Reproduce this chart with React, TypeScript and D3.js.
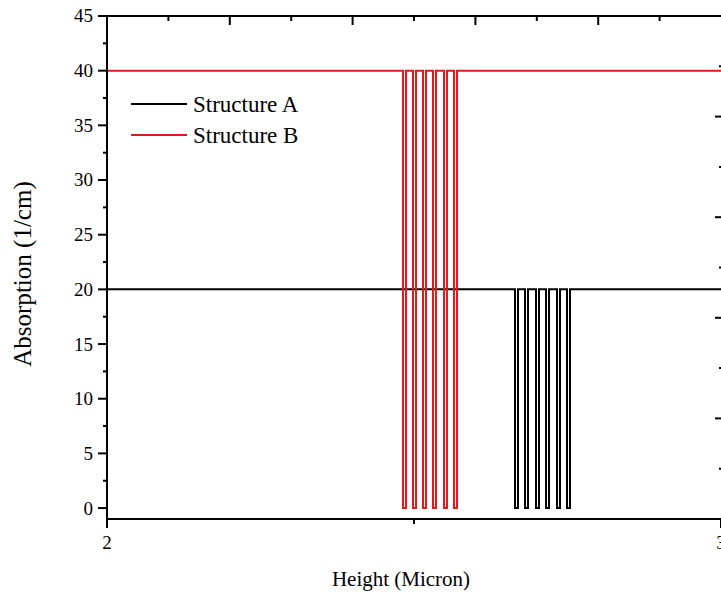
import { useRef, useEffect } from 'react';
import * as d3 from 'd3';

// Structure A: level 20 with six narrow drops to 0
const structureA: [number, number][] = [
  [2, 20], [2.6645, 20], [2.6645, 0], [2.6694, 0], [2.6694, 20],
  [2.6808, 20], [2.6808, 0], [2.6857, 0], [2.6857, 20],
  [2.6987, 20], [2.6987, 0], [2.7036, 0], [2.7036, 20],
  [2.7150, 20], [2.7150, 0], [2.7199, 0], [2.7199, 20],
  [2.7329, 20], [2.7329, 0], [2.7378, 0], [2.7378, 20],
  [2.7492, 20], [2.7492, 0], [2.7541, 0], [2.7541, 20],
  [3, 20],
];

// Structure B: level 40 with six narrow drops to 0
const structureB: [number, number][] = [
  [2, 40], [2.4821, 40], [2.4821, 0], [2.4870, 0], [2.4870, 40],
  [2.4984, 40], [2.4984, 0], [2.5033, 0], [2.5033, 40],
  [2.5147, 40], [2.5147, 0], [2.5195, 0], [2.5195, 40],
  [2.5309, 40], [2.5309, 0], [2.5358, 0], [2.5358, 40],
  [2.5489, 40], [2.5489, 0], [2.5537, 0], [2.5537, 40],
  [2.5651, 40], [2.5651, 0], [2.5700, 0], [2.5700, 40],
  [3, 40],
];

const yMajor = [0, 5, 10, 15, 20, 25, 30, 35, 40, 45];
const yMinor = [2.5, 7.5, 12.5, 17.5, 22.5, 27.5, 32.5, 37.5, 42.5];
const xMajor = [2, 3];
const xMinor = [2.5];
const topMajor = [2.2, 2.4, 2.6, 2.8];
const topMinor = [2.1, 2.3, 2.5, 2.7, 2.9];
const rightMajor = [1, 2, 3, 4];
const rightMinor = [0.5, 1.5, 2.5, 3.5, 4.5];

const series = [
  { name: 'Structure A', data: structureA, color: '#000000' },
  { name: 'Structure B', data: structureB, color: '#e0191b' },
];

const W = 721;
const H = 597;
const FONT = '"Liberation Serif", "Times New Roman", serif';

export default function App() {
  const svgRef = useRef<SVGSVGElement>(null);

  useEffect(() => {
    const svg = d3.select(svgRef.current);
    svg.selectAll('*').remove();

    const left = 107, right = 721, top = 16, bottom = 519;
    const x = d3.scaleLinear().domain([2, 3]).range([left, right]);
    const y = d3.scaleLinear().domain([-1, 45]).range([bottom, top]);
    const yR = d3.scaleLinear().domain([0, 5]).range([bottom, top]);

    const line = d3.line<[number, number]>()
      .x(d => x(d[0]))
      .y(d => y(d[1]));

    series.forEach(s => {
      svg.append('path')
        .attr('d', line(s.data))
        .attr('fill', 'none')
        .attr('stroke', s.color)
        .attr('stroke-width', 2);
    });

    // frame
    const frame = svg.append('g').attr('stroke', '#000').attr('stroke-width', 2);
    frame.append('line').attr('x1', left).attr('x2', left).attr('y1', top - 1).attr('y2', bottom + 1);
    frame.append('line').attr('x1', left).attr('x2', W).attr('y1', top).attr('y2', top);
    frame.append('line').attr('x1', left).attr('x2', W).attr('y1', bottom).attr('y2', bottom);

    // ticks
    const ax = svg.append('g').attr('stroke', '#000').attr('stroke-width', 2);
    yMajor.forEach(v => {
      ax.append('line').attr('x1', left - 9).attr('x2', left).attr('y1', y(v)).attr('y2', y(v));
    });
    yMinor.forEach(v => {
      ax.append('line').attr('x1', left - 4).attr('x2', left).attr('y1', y(v)).attr('y2', y(v));
    });
    xMajor.forEach(v => {
      ax.append('line').attr('x1', x(v)).attr('x2', x(v)).attr('y1', bottom).attr('y2', bottom + 9);
    });
    xMinor.forEach(v => {
      ax.append('line').attr('x1', x(v)).attr('x2', x(v)).attr('y1', bottom).attr('y2', bottom + 5);
    });
    topMajor.forEach(v => {
      ax.append('line').attr('x1', x(v)).attr('x2', x(v)).attr('y1', top).attr('y2', top + 9);
    });
    topMinor.forEach(v => {
      ax.append('line').attr('x1', x(v)).attr('x2', x(v)).attr('y1', top).attr('y2', top + 5);
    });
    // right axis sits just outside the picture, only its inward ticks show
    rightMajor.forEach(v => {
      ax.append('line').attr('x1', W - 6).attr('x2', W).attr('y1', yR(v)).attr('y2', yR(v));
    });
    rightMinor.forEach(v => {
      ax.append('line').attr('x1', W - 2).attr('x2', W).attr('y1', yR(v)).attr('y2', yR(v));
    });

    // tick labels
    const lbl = svg.append('g').attr('font-family', FONT).attr('font-size', 19).attr('fill', '#000');
    yMajor.forEach(v => {
      lbl.append('text').attr('x', left - 14).attr('y', y(v)).attr('dy', '0.34em')
        .attr('text-anchor', 'end').text(v);
    });
    xMajor.forEach(v => {
      lbl.append('text').attr('x', x(v)).attr('y', bottom + 30)
        .attr('text-anchor', 'middle').text(v);
    });

    // axis titles
    svg.append('text')
      .attr('x', 401).attr('y', 586)
      .attr('text-anchor', 'middle')
      .attr('font-family', FONT).attr('font-size', 21)
      .text('Height (Micron)');
    svg.append('text')
      .attr('transform', `translate(31, 274) rotate(-90)`)
      .attr('text-anchor', 'middle')
      .attr('font-family', FONT).attr('font-size', 25)
      .text('Absorption (1/cm)');

    // legend
    const lg = svg.append('g');
    series.forEach((s, i) => {
      const ly = 104 + i * 31;
      lg.append('line').attr('x1', 131).attr('x2', 187).attr('y1', ly).attr('y2', ly)
        .attr('stroke', s.color).attr('stroke-width', 2);
      lg.append('text').attr('x', 193).attr('y', ly).attr('dy', '0.34em')
        .attr('font-family', FONT).attr('font-size', 23).text(s.name);
    });
  }, []);

  return (
    <svg ref={svgRef} width={W} height={H}
      style={{ position: 'absolute', left: 0, top: 0, background: '#fff' }} />
  );
}
